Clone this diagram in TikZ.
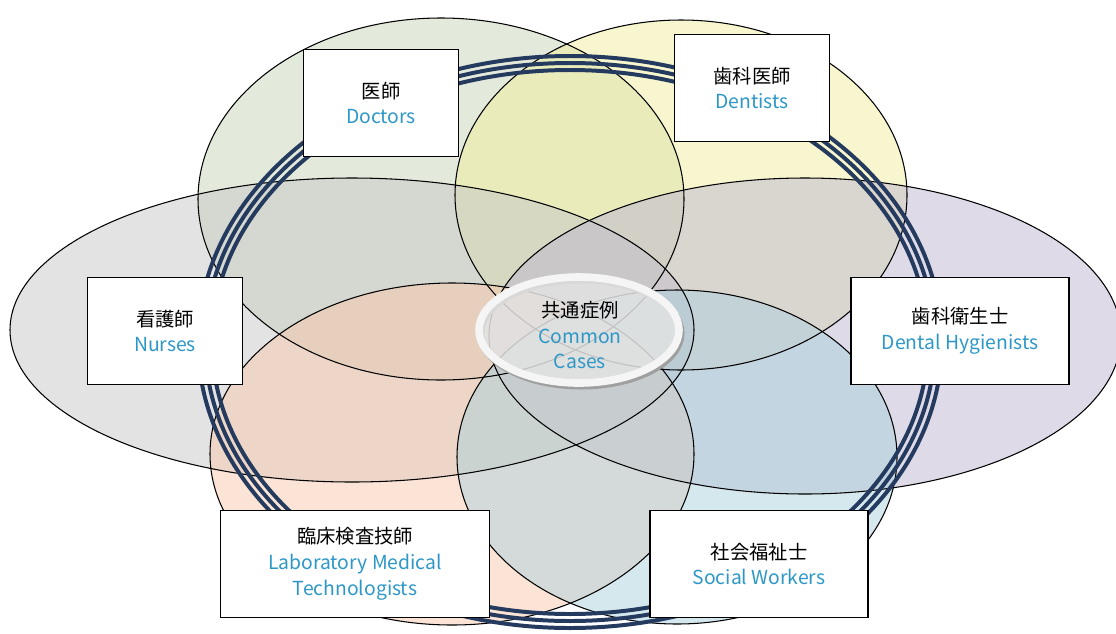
\documentclass[tikz,border=0pt]{standalone}
\usepackage{fontspec}
\setmainfont{Noto Sans CJK JP}
\definecolor{ringblue}{RGB}{36,58,94}
\definecolor{engblue}{RGB}{45,152,200}
\definecolor{docgreen}{RGB}{201,213,183}
\definecolor{dentyellow}{RGB}{239,237,157}
\definecolor{nursegray}{RGB}{199,199,199}
\definecolor{hyglav}{RGB}{189,181,209}
\definecolor{labpeach}{RGB}{247,201,171}
\definecolor{socblue}{RGB}{171,209,221}
\newcommand\jpen[2]{#1\\\textcolor{engblue}{#2}}
\begin{document}
\begin{tikzpicture}[x=0.03cm, y=-0.03cm,
    petal/.style={fill opacity=0.5},
    rim/.style={draw=black, line width=0.9pt},
    ringline/.style={draw=ringblue, line width=3.4pt},
    box/.style={rectangle, draw=black, line width=1.2pt, fill=white, align=center,
        minimum height=3.2cm, inner sep=0pt,
        font=\fontsize{16.5pt}{22pt}\selectfont}]
    \useasboundingbox (0,0) rectangle (1116,633);

    % petals
    \fill[petal, docgreen] (441,199) ellipse [x radius=243, y radius=181];
    \fill[petal, dentyellow] (681,195) ellipse [x radius=226, y radius=175];
    \fill[petal, nursegray] (352,330) ellipse [x radius=342, y radius=152];
    \fill[petal, hyglav] (805,336) ellipse [x radius=316, y radius=158];
    \fill[petal, labpeach] (452,454) ellipse [x radius=242, y radius=171];
    \fill[petal, socblue] (677,457) ellipse [x radius=220, y radius=167];
    \draw[rim] (441,199) ellipse [x radius=243, y radius=181];
    \draw[rim] (681,195) ellipse [x radius=226, y radius=175];
    \draw[rim] (352,330) ellipse [x radius=342, y radius=152];
    \draw[rim] (805,336) ellipse [x radius=316, y radius=158];
    \draw[rim] (452,454) ellipse [x radius=242, y radius=171];
    \draw[rim] (677,457) ellipse [x radius=220, y radius=167];

    % ring
    \draw[ringline] (570,342) ellipse [x radius=372, y radius=286];
    \draw[ringline] (570,342) ellipse [x radius=365, y radius=279];
    \draw[ringline] (570,342) ellipse [x radius=358, y radius=272];

    % common cases
    \draw[gray!75, line width=6pt] (581,333) ellipse [x radius=100, y radius=53];
    \draw[fill=gray!22, fill opacity=0.85, draw=gray!8, line width=6.5pt]
        (579,330) ellipse [x radius=100, y radius=53];
    \draw (580,335) node[align=center, font=\fontsize{16.5pt}{22pt}\selectfont]
        (common) {\jpen{共通症例}{Common}\\\textcolor{engblue}{Cases}};

    % boxes
    \draw (381,103) node[box, minimum width=4.65cm] (doctors) {\jpen{医師}{Doctors}};
    \draw (752,88) node[box, minimum width=4.65cm] (dentists) {\jpen{歯科医師}{Dentists}};
    \draw (165,331) node[box, minimum width=4.65cm] (nurses) {\jpen{看護師}{Nurses}};
    \draw (960,331) node[box, minimum width=6.54cm] (hygienists) {\jpen{歯科衛生士}{Dental Hygienists}};
    \draw (355,564) node[box, minimum width=8.07cm] (labtech) {\jpen{臨床検査技師}{Laboratory Medical}\\\textcolor{engblue}{Technologists}};
    \draw (759,564) node[box, minimum width=6.54cm] (social) {\jpen{社会福祉士}{Social Workers}};
\end{tikzpicture}
\end{document}
